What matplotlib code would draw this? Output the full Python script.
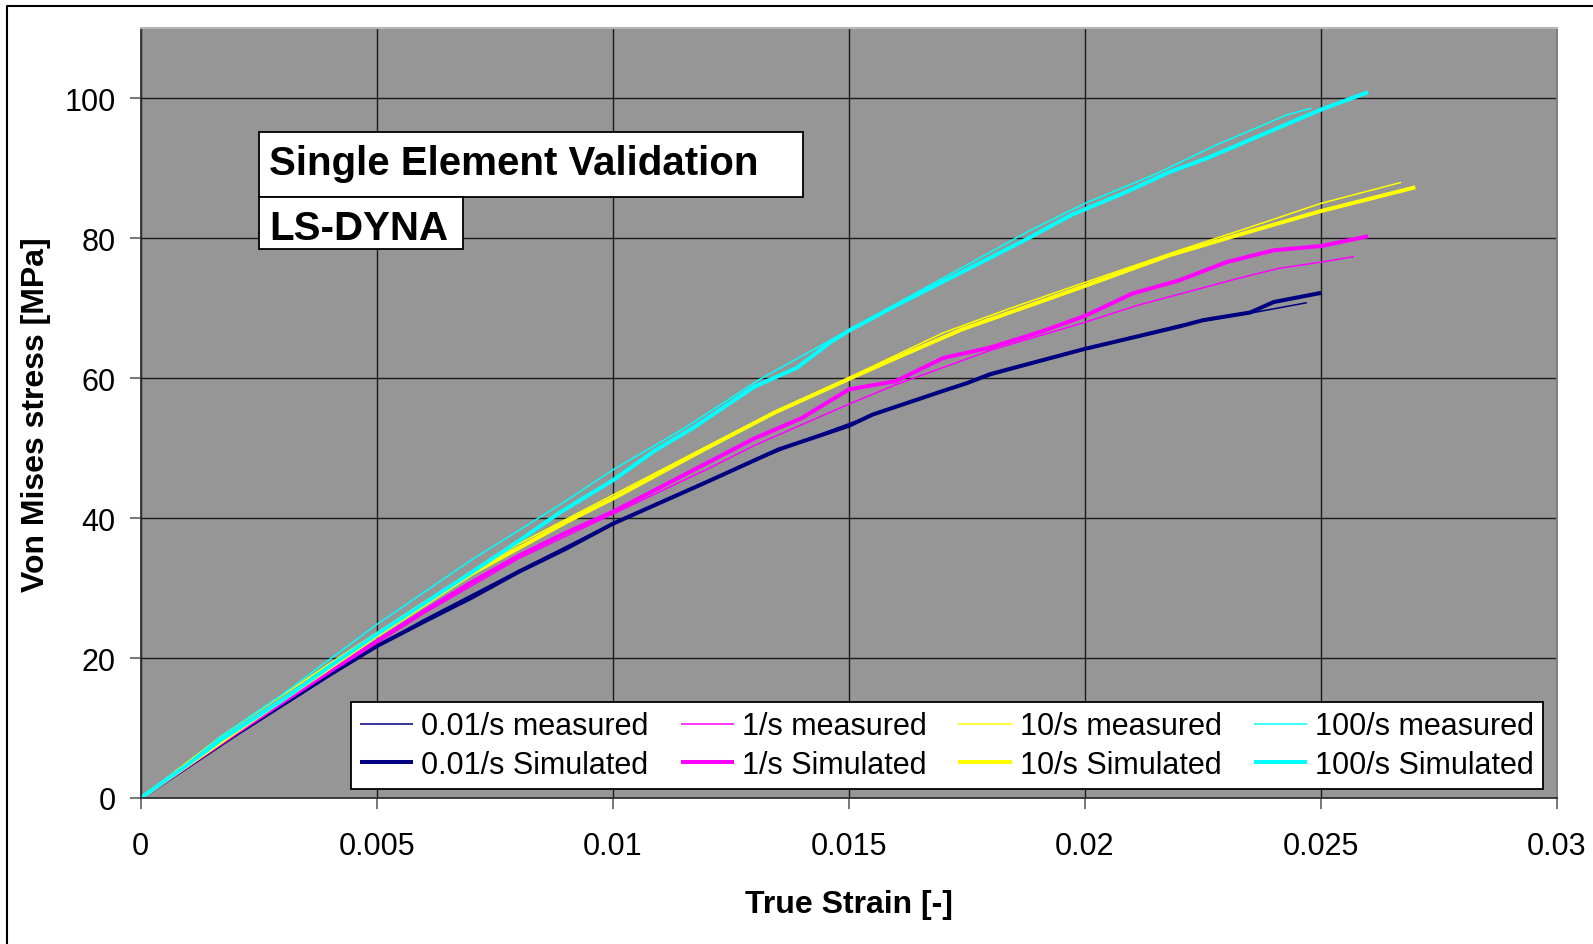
import matplotlib
matplotlib.use("Agg")
import matplotlib.pyplot as plt
from matplotlib.patches import Rectangle
from matplotlib.lines import Line2D

#######################################
# Data
#######################################
x001_meas = [0, 0.002, 0.004, 0.006, 0.008, 0.010, 0.012, 0.014, 0.016, 0.018, 0.020, 0.022, 0.0235, 0.0247]
y001_meas = [0, 9.0, 17.8, 25.5, 32.5, 39.3, 45.3, 51.0, 56.0, 60.4, 64.2, 67.6, 69.3, 70.8]
x001_sim = [0, 0.001, 0.002, 0.003, 0.004, 0.005, 0.006, 0.007, 0.008, 0.009, 0.010, 0.011, 0.012,
            0.0135, 0.015, 0.0155, 0.017, 0.0175, 0.018, 0.0195, 0.020, 0.021, 0.022, 0.0225,
            0.0235, 0.024, 0.025]
y001_sim = [0, 4.5, 9.0, 13.3, 17.6, 21.7, 25.2, 28.6, 32.3, 35.6, 39.2, 42.2, 45.2,
            49.8, 53.2, 54.8, 58.2, 59.3, 60.6, 63.3, 64.2, 65.8, 67.4, 68.3,
            69.4, 70.9, 72.2]

x1_meas = [0, 0.002, 0.004, 0.006, 0.008, 0.010, 0.012, 0.013, 0.015, 0.016, 0.018, 0.0195,
           0.020, 0.0211, 0.0232, 0.0241, 0.025, 0.0257]
y1_meas = [0, 9.0, 17.9, 26.4, 34.2, 40.6, 47.0, 50.4, 56.3, 59.1, 64.0, 67.0,
           68.0, 70.4, 74.2, 75.7, 76.6, 77.4]
x1_sim = [0, 0.001, 0.002, 0.003, 0.004, 0.005, 0.006, 0.007, 0.008, 0.009, 0.010, 0.011, 0.012,
          0.013, 0.014, 0.015, 0.016, 0.017, 0.018, 0.019, 0.020, 0.021, 0.022, 0.023, 0.024,
          0.025, 0.026]
y1_sim = [0, 4.6, 9.2, 13.7, 18.1, 22.4, 26.7, 30.8, 34.6, 37.9, 40.9, 44.4, 47.9,
          51.4, 54.3, 58.4, 59.6, 62.9, 64.4, 66.5, 68.9, 72.1, 74.0, 76.6, 78.3,
          78.9, 80.3]

x10_meas = [0, 0.0017, 0.004, 0.006, 0.008, 0.010, 0.012, 0.0135, 0.015, 0.017, 0.0185, 0.020,
            0.022, 0.0235, 0.025, 0.0267]
y10_meas = [0, 8.8, 19.2, 28.0, 36.3, 43.3, 50.3, 55.5, 60.1, 66.5, 70.2, 73.7,
            78.3, 81.6, 85.0, 88.0]
x10_sim = [0, 0.001, 0.002, 0.003, 0.004, 0.005, 0.006, 0.007, 0.008, 0.009, 0.010, 0.0119,
           0.0134, 0.015, 0.016, 0.0174, 0.0182, 0.020, 0.0218, 0.0232, 0.025, 0.027]
y10_sim = [0, 4.7, 9.4, 14.0, 18.6, 23.2, 27.6, 32.0, 35.7, 39.4, 42.8, 49.7,
           55.0, 59.9, 62.9, 67.0, 68.9, 73.2, 77.6, 80.4, 83.9, 87.3]

x100_meas = [0, 0.001, 0.0017, 0.003, 0.005, 0.007, 0.0089, 0.010, 0.0115, 0.0131, 0.015, 0.0165,
             0.0188, 0.020, 0.0215, 0.0228, 0.0243, 0.0248]
y100_meas = [0, 5.0, 8.8, 14.8, 24.8, 34.0, 42.0, 46.9, 52.8, 59.8, 66.9, 72.5,
             81.0, 85.0, 89.2, 93.4, 97.7, 98.6]
x100_sim = [0, 0.001, 0.0017, 0.003, 0.004, 0.005, 0.006, 0.007, 0.008, 0.0089, 0.010, 0.0109,
            0.0117, 0.013, 0.0139, 0.0146, 0.015, 0.016, 0.0174, 0.0188, 0.0197, 0.0209,
            0.0218, 0.0226, 0.025, 0.026]
y100_sim = [0, 4.8, 8.3, 14.0, 18.8, 23.4, 27.8, 32.2, 36.7, 40.9, 45.4, 49.7,
            52.9, 58.8, 61.5, 65.1, 66.8, 70.4, 75.2, 80.0, 83.3, 86.7,
            89.5, 91.5, 98.4, 100.9]

series = [
    (x001_meas, y001_meas, '#000080', 'thin', '0.01/s measured'),
    (x001_sim, y001_sim, '#000080', 'thick', '0.01/s Simulated'),
    (x1_meas, y1_meas, '#FF00FF', 'thin', '1/s measured'),
    (x1_sim, y1_sim, '#FF00FF', 'thick', '1/s Simulated'),
    (x10_meas, y10_meas, '#FFFF00', 'thin', '10/s measured'),
    (x10_sim, y10_sim, '#FFFF00', 'thick', '10/s Simulated'),
    (x100_meas, y100_meas, '#00FFFF', 'thin', '100/s measured'),
    (x100_sim, y100_sim, '#00FFFF', 'thick', '100/s Simulated'),
]

xticks = [0, 0.005, 0.01, 0.015, 0.02, 0.025, 0.03]
xtick_labels = ['0', '0.005', '0.01', '0.015', '0.02', '0.025', '0.03']
yticks = [0, 20, 40, 60, 80, 100]

#######################################
# Plot
#######################################
plt.rcParams['font.family'] = ['Liberation Sans', 'DejaVu Sans']

fig = plt.figure(figsize=(15.93, 9.45), dpi=100)
ax = fig.add_axes([0.0883, 0.1545, 0.9774 - 0.0883, 0.9688 - 0.1545])
ax.set_facecolor('#969696')

for x, y, c, w, lab in series:
    lw = 1.1 if w == 'thin' else 2.9
    ax.plot(x, y, color=c, lw=lw, label=lab, solid_capstyle='butt')

ax.set_xlim(0, 0.03)
ax.set_ylim(0, 110)
ax.set_xticks(xticks)
ax.set_xticklabels(xtick_labels)
ax.set_yticks(yticks)
ax.grid(True, color='#1a1a1a', lw=1.0)
ax.set_axisbelow(True)

ax.tick_params(axis='both', direction='out', length=8, width=1.2, color='#606060',
               labelsize=22)
ax.tick_params(axis='x', pad=16)
ax.tick_params(axis='y', pad=10)

for side in ['left', 'bottom']:
    ax.spines[side].set_color('#303030')
    ax.spines[side].set_linewidth(1.3)
ax.spines['top'].set_color('#b4b4b4')
ax.spines['right'].set_color('#808080')
ax.spines['top'].set_linewidth(1.5)
ax.spines['right'].set_linewidth(1.5)

ax.set_xlabel('True Strain [-]', fontsize=23, fontweight='bold', labelpad=20)
ax.set_ylabel('Von Mises stress [MPa]', fontsize=23, fontweight='bold', labelpad=10)

leg = ax.legend(ncol=4, loc='lower right', bbox_to_anchor=(0.990, 0.0117),
                borderaxespad=0, fontsize=22, frameon=True, fancybox=False,
                framealpha=1, edgecolor='black', handlelength=1.75, handletextpad=0.25,
                borderpad=0.3, labelspacing=0.28, columnspacing=1.05)
leg.get_frame().set_linewidth(1.3)

# annotation boxes
fig.add_artist(Rectangle((0.1626, 0.7905), 0.3415, 0.0688, transform=fig.transFigure,
                         facecolor='white', edgecolor='black', lw=1.3, zorder=5))
fig.add_artist(Rectangle((0.1626, 0.7354), 0.128, 0.0551, transform=fig.transFigure,
                         facecolor='white', edgecolor='black', lw=1.3, zorder=5))
fig.text(0.1689, 0.8148, 'Single Element Validation', fontsize=29, fontweight='bold',
         va='baseline', ha='left', zorder=6)
fig.text(0.1689, 0.746, 'LS-DYNA', fontsize=29, fontweight='bold',
         va='baseline', ha='left', zorder=6)

# outer frame (only left/top visible in the reference crop)
fig.add_artist(Line2D([0.0044, 0.0044, 1.0], [0.0, 0.9926, 0.9926],
                      transform=fig.transFigure, color='black', lw=1.5))

fig.savefig('out.png', dpi=100)
